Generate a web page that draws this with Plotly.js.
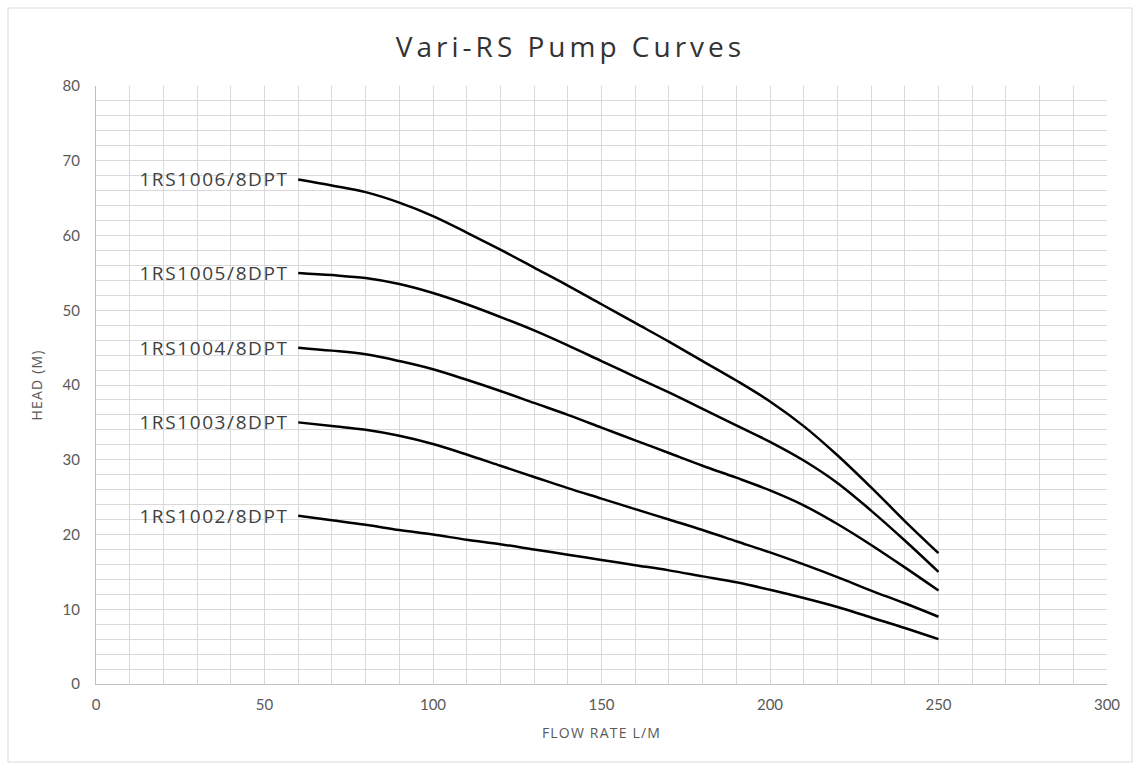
<!DOCTYPE html>
<html>
<head>
<meta charset="utf-8">
<script src="https://cdn.plot.ly/plotly-3.0.1.min.js"></script>
<style>
  html, body { margin: 0; padding: 0; background: #fff; }
  #chart { width: 1141px; height: 770px; }
  #chart .gtitle { letter-spacing: 4px; }
  #chart .annotation-text { letter-spacing: 1.6px; }
  #chart .xtitle, #chart .ytitle { letter-spacing: 1.2px; }
</style>
</head>
<body>
<div id="chart"></div>
<script>
const flowRate = [60, 70, 80, 90, 100, 110, 120, 130, 140, 150, 160, 170, 180, 190, 200, 210, 220, 230, 240, 250];

const seriesNames = ["1RS1006/8DPT", "1RS1005/8DPT", "1RS1004/8DPT", "1RS1003/8DPT", "1RS1002/8DPT"];

const head1006 = [67.5, 66.7, 65.8, 64.4, 62.6, 60.4, 58.1, 55.7, 53.3, 50.8, 48.3, 45.8, 43.2, 40.6, 37.8, 34.5, 30.6, 26.3, 21.8, 17.5];
const head1005 = [55.0, 54.7, 54.3, 53.5, 52.3, 50.8, 49.1, 47.3, 45.3, 43.2, 41.1, 39.0, 36.8, 34.6, 32.4, 29.9, 26.9, 23.2, 19.2, 15.0];
const head1004 = [45.0, 44.6, 44.1, 43.2, 42.1, 40.7, 39.2, 37.6, 36.0, 34.3, 32.6, 30.9, 29.2, 27.6, 25.9, 23.9, 21.4, 18.6, 15.6, 12.5];
const head1003 = [35.0, 34.5, 34.0, 33.2, 32.1, 30.7, 29.2, 27.7, 26.2, 24.8, 23.4, 22.0, 20.6, 19.1, 17.6, 16.0, 14.3, 12.5, 10.8, 9.0];
const head1002 = [22.5, 21.9, 21.3, 20.6, 20.0, 19.3, 18.7, 18.0, 17.3, 16.6, 15.9, 15.2, 14.4, 13.6, 12.6, 11.5, 10.3, 8.9, 7.5, 6.0];

const xTickVals = [0, 50, 100, 150, 200, 250, 300];
const yTickVals = [0, 10, 20, 30, 40, 50, 60, 70, 80];

const allHeads = [head1006, head1005, head1004, head1003, head1002];

const traces = allHeads.map((h, i) => ({
  type: 'scatter',
  mode: 'lines',
  x: flowRate,
  y: h,
  name: seriesNames[i],
  line: { color: '#000000', width: 2.5, shape: 'spline', smoothing: 1 },
  hoverinfo: 'x+y+name'
}));

const annotations = allHeads.map((h, i) => ({
  x: flowRate[0],
  y: h[0],
  xref: 'x',
  yref: 'y',
  text: seriesNames[i],
  showarrow: false,
  xanchor: 'right',
  yanchor: 'middle',
  xshift: -16,
  font: { family: '"Open Sans", sans-serif', size: 19, color: '#404040' }
}));

const W = 1141, H = 770;
const mL = 96, mR = 34, mT = 86, mB = 86;
const pw = W - mL - mR, ph = H - mT - mB;

const layout = {
  width: W,
  height: H,
  margin: { l: mL, r: mR, t: mT, b: mB, pad: 0 },
  paper_bgcolor: '#ffffff',
  plot_bgcolor: '#ffffff',
  showlegend: false,
  title: {
    text: 'Vari-RS Pump Curves',
    x: 0.5,
    xanchor: 'center',
    y: 1 - 47 / H,
    yanchor: 'middle',
    font: { family: '"Open Sans", sans-serif', size: 28, weight: 400, color: '#333333' }
  },
  xaxis: {
    range: [0, 300],
    tickvals: xTickVals,
    ticks: 'outside',
    ticklen: 7,
    tickcolor: 'rgba(0,0,0,0)',
    showgrid: true,
    gridcolor: '#d9d9d9',
    gridwidth: 1,
    minor: { dtick: 10, showgrid: true, gridcolor: '#d9d9d9', gridwidth: 1 },
    showline: true,
    linecolor: '#bfbfbf',
    linewidth: 1,
    zeroline: false,
    tickfont: { family: 'Lato, sans-serif', size: 15, color: '#595959' },
    title: {
      text: 'FLOW RATE L/M',
      standoff: 16,
      font: { family: '"Open Sans", sans-serif', size: 14, color: '#595959' }
    },
    fixedrange: true
  },
  yaxis: {
    range: [0, 80],
    tickvals: yTickVals,
    ticks: 'outside',
    ticklen: 12,
    tickcolor: 'rgba(0,0,0,0)',
    showgrid: true,
    gridcolor: '#d9d9d9',
    gridwidth: 1,
    minor: { dtick: 2, showgrid: true, gridcolor: '#d9d9d9', gridwidth: 1 },
    showline: true,
    linecolor: '#bfbfbf',
    linewidth: 1,
    zeroline: false,
    tickfont: { family: 'Lato, sans-serif', size: 15, color: '#595959' },
    title: {
      text: 'HEAD (M)',
      standoff: 16,
      font: { family: '"Open Sans", sans-serif', size: 14, color: '#595959' }
    },
    fixedrange: true
  },
  annotations: annotations,
  shapes: [{
    type: 'rect',
    xref: 'paper', yref: 'paper',
    x0: (8 - mL) / pw,
    x1: (1132 - mL) / pw,
    y0: (H - mB - 762) / ph,
    y1: (H - mB - 8) / ph,
    line: { color: '#d9d9d9', width: 1 },
    fillcolor: 'rgba(0,0,0,0)',
    layer: 'below'
  }]
};

Plotly.newPlot('chart', traces, layout, { displayModeBar: false, staticPlot: true });
</script>
</body>
</html>
